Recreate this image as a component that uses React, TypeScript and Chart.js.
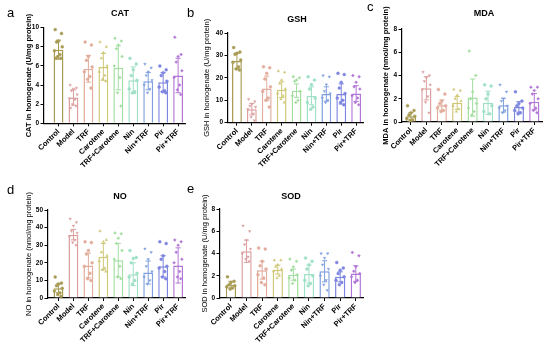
import React, { useEffect, useRef } from 'react';
import { Chart, registerables } from 'chart.js';

Chart.register(...registerables);
Chart.defaults.font.family = '"Liberation Sans", Arial, sans-serif';

const groups = ['Control', 'Model', 'TRF', 'Carotene', 'TRF+Carotene', 'Nin', 'Nin+TRF', 'Pir', 'Pir+TRF'];

// CAT
const catMeans = [7.7, 2.7, 5.7, 5.9, 5.8, 4.5, 4.4, 4.3, 5.0];
const catSD = [1.0, 0.8, 1.4, 1.4, 2.3, 1.4, 0.9, 1.0, 1.8];
const catPoints = [
  [9.8, 9.4, 8.6, 8.5, 8.0, 7.6, 7.2, 7.0, 6.8, 6.8],
  [4.0, 3.7, 3.6, 3.4, 3.0, 2.6, 2.5, 2.0, 1.8, 1.6],
  [8.5, 8.2, 7.0, 6.6, 5.9, 5.4, 4.9, 4.6, 3.7],
  [8.5, 8.0, 7.4, 6.8, 6.0, 5.4, 5.0, 4.6, 4.4],
  [8.9, 8.6, 8.2, 7.8, 7.0, 6.0, 4.8, 3.2, 1.8],
  [6.8, 6.2, 5.6, 5.0, 4.5, 3.6, 3.3, 3.2],
  [6.2, 5.8, 5.4, 5.0, 4.5, 4.0, 3.6, 3.2],
  [6.0, 5.6, 5.3, 5.0, 4.4, 3.8, 3.4, 3.3, 3.2],
  [9.0, 7.2, 7.0, 6.4, 5.5, 4.8, 4.0, 3.5, 3.0],
];

// GSH
const gshMeans = [27.5, 6.0, 15.3, 14.7, 14.3, 12.0, 12.8, 12.8, 13.0];
const gshSD = [3.5, 2.5, 5.5, 3.5, 3.0, 4.0, 3.2, 4.5, 3.5];
const gshPoints = [
  [33.5, 31.5, 31.0, 30.5, 28.0, 27.0, 25.0, 24.0, 23.5],
  [10.5, 9.5, 8.5, 7.5, 7.0, 6.0, 4.0, 2.5, 1.0],
  [25.0, 24.5, 22.0, 19.5, 16.0, 14.0, 11.0, 10.0, 7.0],
  [23.0, 22.5, 19.0, 17.5, 15.0, 13.0, 12.0, 10.5, 9.0],
  [20.5, 20.0, 19.0, 18.5, 14.0, 12.0, 10.0, 9.0],
  [20.5, 19.0, 17.0, 15.0, 11.0, 9.0, 7.0, 6.0],
  [21.0, 20.5, 17.0, 14.0, 13.0, 11.0, 10.0, 9.0],
  [22.0, 21.5, 18.0, 15.5, 13.0, 11.0, 10.0, 9.0, 8.0],
  [21.0, 20.5, 18.0, 16.0, 15.0, 12.0, 11.0, 9.0, 8.0],
];

// MDA
const mdaMeans = [0.5, 2.9, 1.45, 1.65, 2.1, 1.65, 1.45, 1.3, 1.75];
const mdaSD = [0.3, 1.0, 0.45, 0.55, 1.6, 1.0, 0.6, 0.45, 0.7];
const mdaPoints = [
  [1.4, 1.0, 0.8, 0.6, 0.5, 0.3, 0.2, 0.1],
  [4.3, 4.0, 3.8, 3.5, 3.2, 2.8, 2.2, 1.7, 0.8],
  [2.8, 2.4, 1.8, 1.6, 1.4, 1.2, 1.0, 0.9],
  [2.8, 2.7, 2.3, 2.0, 1.8, 1.4, 1.1, 0.9],
  [6.1, 4.0, 2.6, 2.0, 1.6, 1.2, 0.9, 0.6],
  [3.2, 3.1, 2.4, 2.0, 1.4, 0.9, 0.7],
  [3.2, 2.6, 2.0, 1.8, 1.4, 1.2, 1.0, 0.8],
  [2.6, 1.8, 1.6, 1.4, 1.2, 1.0, 0.8, 0.7],
  [3.0, 3.0, 2.7, 2.4, 2.0, 1.6, 1.2, 1.0, 0.8],
];

// NO
const noMeans = [5.5, 36.0, 18.5, 23.5, 21.5, 13.5, 14.5, 18.0, 18.5];
const noSD = [2.5, 3.0, 7.0, 7.5, 9.5, 6.5, 6.5, 6.0, 10.0];
const noPoints = [
  [12.0, 8.5, 8.0, 7.0, 5.5, 4.0, 3.0, 2.0, 1.0],
  [45.0, 43.0, 41.0, 38.0, 37.0, 35.0, 33.0, 31.5, 30.0],
  [32.0, 31.5, 27.0, 25.0, 20.0, 18.0, 14.0, 11.0, 10.0],
  [38.0, 33.0, 32.0, 26.0, 24.0, 21.0, 17.0, 16.0, 15.0],
  [37.0, 36.5, 34.0, 31.0, 27.0, 22.0, 18.0, 12.0, 11.0],
  [27.0, 23.0, 22.5, 20.0, 14.0, 12.0, 10.0, 8.0],
  [28.0, 26.0, 22.0, 18.0, 15.0, 12.0, 10.0, 8.0],
  [32.0, 31.0, 24.0, 22.0, 18.0, 17.0, 15.0, 12.0, 11.0],
  [33.0, 32.0, 30.0, 26.0, 22.0, 20.0, 15.0, 12.0, 11.0],
];

// SOD
const sodMeans = [1.2, 4.2, 2.5, 2.55, 2.1, 2.15, 2.4, 1.9, 2.2];
const sodSD = [0.3, 1.0, 0.8, 0.4, 0.5, 0.8, 0.95, 0.45, 0.7];
const sodPoints = [
  [1.9, 1.5, 1.4, 1.2, 1.1, 1.0, 0.9, 0.8],
  [6.5, 6.0, 5.2, 4.8, 4.4, 4.0, 3.7, 3.5, 3.3],
  [4.5, 4.4, 3.3, 2.9, 2.6, 2.1, 1.8, 1.4, 1.2],
  [3.4, 3.4, 3.0, 2.8, 2.6, 2.4, 2.0, 1.8],
  [3.5, 3.3, 2.8, 2.5, 2.1, 1.8, 1.6, 1.3],
  [3.6, 3.3, 3.0, 2.6, 2.0, 1.6, 1.3, 1.1],
  [4.0, 4.0, 3.6, 3.0, 2.6, 2.0, 1.6, 1.2, 0.7],
  [3.2, 2.7, 2.5, 2.2, 1.9, 1.6, 1.4, 1.2],
  [4.1, 3.8, 2.8, 2.4, 2.2, 1.9, 1.6, 1.4],
];

// styling
const colors = ['#a89c55', '#dc9f9f', '#e2ad9c', '#cfc877', '#a3dea0', '#9fe0c6', '#7f9fdf', '#7f86e0', '#b276d6'];
const shapes = ['circle', 'triangle', 'circle', 'triangle', 'rect', 'circle', 'triangle', 'circle', 'rect'];
const rotations = [0, 180, 0, 0, 45, 0, 180, 0, 45];
const jitter = [-0.22, 0.2, 0, -0.13, 0.25, -0.27, 0.1, -0.05, 0.17, -0.18];

type PanelCfg = {
  letter: string; title: string; yTitle: string; yBold: boolean;
  means: number[]; sd: number[]; points: number[][];
  yMax: number; yStep: number;
  box: number[]; area: number[]; xMin: number; yTitleX: number;
  titleX: number; titleY: number; letterX: number; letterBase: number;
};

const panels: PanelCfg[] = [
  { letter: 'a', title: 'CAT', yTitle: 'CAT in homogenate (U/mg protein)', yBold: true,
    means: catMeans, sd: catSD, points: catPoints, yMax: 10, yStep: 2,
    box: [0, 0, 190, 175], area: [44, 27.7, 188, 123.3], xMin: -0.97, yTitleX: 29,
    titleX: 120, titleY: 13, letterX: 7, letterBase: 17 },
  { letter: 'b', title: 'GSH', yTitle: 'GSH in homogenate (U/mg protein)', yBold: false,
    means: gshMeans, sd: gshSD, points: gshPoints, yMax: 40, yStep: 10,
    box: [190, 0, 178, 175], area: [228, 33, 365.4, 122.7], xMin: -0.6, yTitleX: 207,
    titleX: 297, titleY: 19, letterX: 187, letterBase: 17 },
  { letter: 'c', title: 'MDA', yTitle: 'MDA in homogenate (nmol/mg protein)', yBold: true,
    means: mdaMeans, sd: mdaSD, points: mdaPoints, yMax: 8, yStep: 2,
    box: [368, 0, 182, 175], area: [402, 29, 542, 122], xMin: -0.58, yTitleX: 386,
    titleX: 484, titleY: 13, letterX: 367, letterBase: 11 },
  { letter: 'd', title: 'NO', yTitle: 'NO in homogenate (nmol/mg protein)', yBold: false,
    means: noMeans, sd: noSD, points: noPoints, yMax: 50, yStep: 10,
    box: [0, 175, 190, 172], area: [48, 210, 188, 298], xMin: -0.7, yTitleX: 29,
    titleX: 120, titleY: 196, letterX: 7, letterBase: 194 },
  { letter: 'e', title: 'SOD', yTitle: 'SOD in homogenate (U/mg protein)', yBold: false,
    means: sodMeans, sd: sodSD, points: sodPoints, yMax: 8, yStep: 2,
    box: [190, 175, 178, 172], area: [220, 209, 364, 298], xMin: -0.7, yTitleX: 205,
    titleX: 291, titleY: 196, letterX: 187, letterBase: 193 },
];

const errorBarPlugin = {
  id: 'errorBars',
  afterDatasetDraw(chart: any, args: any, opts: any) {
    if (args.index !== 0) return;
    const sd: number[] = opts.sd || [];
    const means: number[] = opts.means || [];
    const x = chart.scales.x;
    const y = chart.scales.y;
    const ctx = chart.ctx;
    ctx.save();
    ctx.lineWidth = 1;
    means.forEach((m, i) => {
      const px = x.getPixelForValue(i);
      const top = y.getPixelForValue(m + sd[i]);
      const bot = y.getPixelForValue(Math.max(0, m - sd[i]));
      ctx.strokeStyle = colors[i];
      ctx.beginPath();
      ctx.moveTo(px, top);
      ctx.lineTo(px, bot);
      ctx.moveTo(px - 2.6, top);
      ctx.lineTo(px + 2.6, top);
      ctx.moveTo(px - 2.6, bot);
      ctx.lineTo(px + 2.6, bot);
      ctx.stroke();
    });
    ctx.restore();
  },
};

function Panel({ p }: { p: PanelCfg }) {
  const ref = useRef<HTMLCanvasElement>(null);
  useEffect(() => {
    if (!ref.current) return;
    const [bx, by, bw, bh] = p.box;
    const [L, T, R, B] = p.area;
    const yTitleSize = 7.5;
    const datasets: any[] = [
      {
        type: 'bar',
        data: p.means.map((m, i) => ({ x: i, y: m })),
        backgroundColor: '#ffffff',
        borderColor: colors,
        borderWidth: 1.5,
        barPercentage: 0.66,
        categoryPercentage: 1,
        order: 2,
      },
    ];
    p.points.forEach((arr, i) => {
      datasets.push({
        type: 'scatter',
        data: arr.map((v, k) => ({ x: i + jitter[k % jitter.length], y: v })),
        backgroundColor: colors[i],
        borderColor: colors[i],
        pointStyle: shapes[i],
        rotation: rotations[i],
        pointRadius: 1.5,
        borderWidth: 0.4,
        order: 1,
      });
    });
    const chart = new Chart(ref.current, {
      type: 'bar',
      data: { datasets },
      plugins: [errorBarPlugin],
      options: {
        animation: false,
        responsive: false,
        maintainAspectRatio: false,
        devicePixelRatio: 1,
        layout: { padding: { left: 0, top: T - by, right: bx + bw - R, bottom: 0 } },
        plugins: {
          legend: { display: false },
          tooltip: { enabled: false },
          errorBars: { sd: p.sd, means: p.means },
        } as any,
        scales: {
          x: {
            type: 'linear',
            min: p.xMin,
            max: 8.5,
            offset: false,
            afterBuildTicks: (s: any) => { s.ticks = groups.map((_, i) => ({ value: i })); },
            afterFit: (s: any) => { s.height = by + bh - B; },
            ticks: {
              autoSkip: false,
              minRotation: 45,
              maxRotation: 45,
              padding: 1,
              color: '#000',
              font: { size: 7.5, weight: 'bold' },
              callback: (v: any) => groups[v as number],
            },
            grid: { drawOnChartArea: false, drawTicks: true, tickLength: 3, color: '#000', offset: false },
            border: { display: true, color: '#000', width: 1.2 },
          } as any,
          y: {
            min: 0,
            max: p.yMax,
            afterFit: (s: any) => { s.width = L - bx; },
            ticks: { stepSize: p.yStep, color: '#000', padding: 1.5, font: { size: 6.5, weight: 'bold' } },
            grid: { drawOnChartArea: false, drawTicks: true, tickLength: 3.5, color: '#000' },
            border: { display: true, color: '#000', width: 1.2 },
            title: {
              display: true,
              text: p.yTitle,
              color: '#000',
              font: { size: yTitleSize, weight: p.yBold ? 'bold' : 'normal' },
              padding: { top: p.yTitleX - bx - yTitleSize * 0.6, bottom: 0 },
            },
          } as any,
        },
      },
    });
    return () => chart.destroy();
  }, [p]);
  const [bx, by, bw, bh] = p.box;
  return (
    <>
      <canvas
        ref={ref}
        width={bw}
        height={bh}
        style={{ position: 'absolute', left: bx, top: by, width: bw, height: bh }}
      />
      <div
        style={{
          position: 'absolute', left: p.titleX - 40, top: p.titleY - 6, width: 80, height: 12,
          lineHeight: '12px', textAlign: 'center', fontFamily: '"Liberation Sans", Arial, sans-serif',
          fontWeight: 'bold', fontSize: 9, color: '#000',
        }}
      >
        {p.title}
      </div>
      <div
        style={{
          position: 'absolute', left: p.letterX, top: p.letterBase - 12, height: 15,
          lineHeight: '15px', fontFamily: '"Liberation Sans", Arial, sans-serif',
          fontSize: 13, color: '#000',
        }}
      >
        {p.letter}
      </div>
    </>
  );
}

export default function App() {
  return (
    <div style={{ position: 'absolute', left: 0, top: 0, width: 550, height: 347, background: '#fff', overflow: 'hidden' }}>
      {panels.map((p) => (
        <Panel key={p.letter} p={p} />
      ))}
    </div>
  );
}
